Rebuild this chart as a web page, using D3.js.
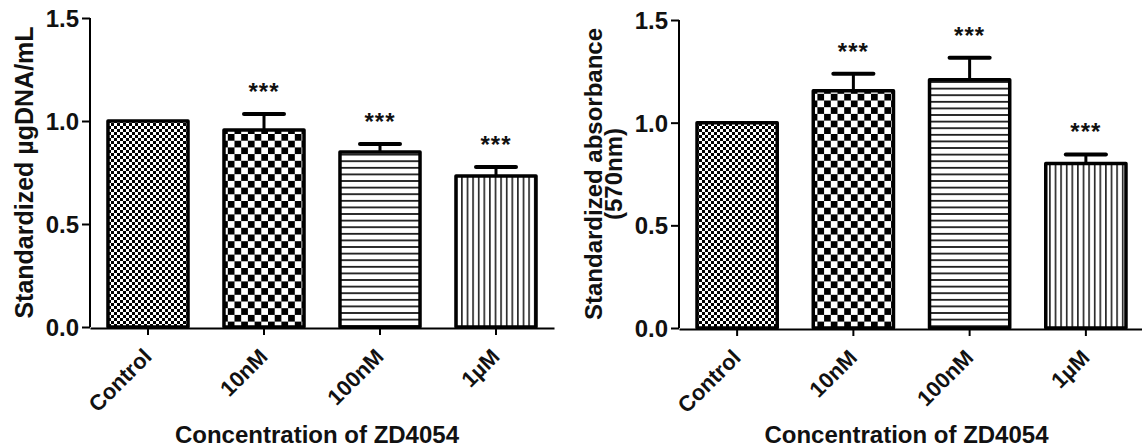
<!DOCTYPE html>
<html>
<head>
<meta charset="utf-8">
<script src="https://cdn.jsdelivr.net/npm/d3@7"></script>
<style>
  body { margin: 0; background: #fff; }
  svg { display: block; font-family: "Liberation Sans", Arial, sans-serif; font-weight: bold; }
</style>
</head>
<body>
<svg width="1142" height="447"></svg>
<script>
const categories = ["Control", "10nM", "100nM", "1µM"];
const patterns = ["fineCheck", "bigCheck", "hLines", "vLines"];
const yTicks = [0, 0.5, 1.0, 1.5];

// left panel: DNA content
const dnaMeans = [1.0, 0.956, 0.85, 0.733];
const dnaErrors = [0, 0.078, 0.038, 0.044];
const dnaStars = ["", "***", "***", "***"];

// right panel: absorbance
const absMeans = [1.0, 1.155, 1.209, 0.801];
const absErrors = [0, 0.083, 0.107, 0.044];
const absStars = ["", "***", "***", "***"];

const svg = d3.select("svg");

const drawPatterns = () => {
  const defs = svg.append("defs");

  let p = defs.append("pattern").attr("id", "fineCheck")
    .attr("patternUnits", "userSpaceOnUse").attr("width", 6).attr("height", 6);
  p.append("rect").attr("width", 6).attr("height", 6).attr("fill", "#fff");
  p.append("rect").attr("width", 3).attr("height", 3).attr("fill", "#000");
  p.append("rect").attr("x", 3).attr("y", 3).attr("width", 3).attr("height", 3).attr("fill", "#000");

  p = defs.append("pattern").attr("id", "bigCheck")
    .attr("patternUnits", "userSpaceOnUse").attr("width", 13.4).attr("height", 13.4);
  p.append("rect").attr("width", 13.4).attr("height", 13.4).attr("fill", "#fff");
  p.append("rect").attr("width", 6.7).attr("height", 6.7).attr("fill", "#000");
  p.append("rect").attr("x", 6.7).attr("y", 6.7).attr("width", 6.7).attr("height", 6.7).attr("fill", "#000");

  p = defs.append("pattern").attr("id", "hLines")
    .attr("patternUnits", "userSpaceOnUse").attr("width", 10).attr("height", 6.6);
  p.append("rect").attr("width", 10).attr("height", 6.6).attr("fill", "#fff");
  p.append("rect").attr("y", 2).attr("width", 10).attr("height", 1.6).attr("fill", "#000");

  p = defs.append("pattern").attr("id", "vLines")
    .attr("patternUnits", "userSpaceOnUse").attr("width", 5.6).attr("height", 10);
  p.append("rect").attr("width", 5.6).attr("height", 10).attr("fill", "#fff");
  p.append("rect").attr("x", 2).attr("width", 1.4).attr("height", 10).attr("fill", "#000");
};

const drawPanel = (opts) => {
  const { means, errors, stars, xRange, yRange, titleLines, titleX, titleSize } = opts;

  const xScale = d3.scaleBand()
    .domain(categories)
    .range(xRange)
    .paddingInner(0.31)
    .paddingOuter(0.155);

  const yScale = d3.scaleLinear().domain([0, 1.5]).range(yRange);

  const g = svg.append("g");

  // bars
  g.selectAll("rect.bar")
    .data(categories)
    .enter()
    .append("rect")
    .attr("class", "bar")
    .attr("x", (d) => xScale(d))
    .attr("width", xScale.bandwidth())
    .attr("y", (d, i) => yScale(means[i]))
    .attr("height", (d, i) => yScale(0) - yScale(means[i]))
    .attr("fill", (d, i) => `url(#${patterns[i]})`)
    .attr("stroke", "#000")
    .attr("stroke-width", 3.5)
    .attr("stroke-linejoin", "round");

  // error bars
  const capHalf = xScale.bandwidth() / 4;
  categories.forEach((c, i) => {
    if (!errors[i]) return;
    const cx = xScale(c) + xScale.bandwidth() / 2;
    g.append("line")
      .attr("x1", cx).attr("x2", cx)
      .attr("y1", yScale(means[i])).attr("y2", yScale(means[i] + errors[i]))
      .attr("stroke", "#000").attr("stroke-width", 3);
    g.append("line")
      .attr("x1", cx - capHalf).attr("x2", cx + capHalf)
      .attr("y1", yScale(means[i] + errors[i])).attr("y2", yScale(means[i] + errors[i]))
      .attr("stroke", "#000").attr("stroke-width", 4).attr("stroke-linecap", "round");
  });

  // significance marks
  g.selectAll("text.star")
    .data(categories)
    .enter()
    .append("text")
    .attr("class", "star")
    .attr("x", (d) => xScale(d) + xScale.bandwidth() / 2)
    .attr("y", (d, i) => yScale(means[i] + errors[i]) - 14)
    .attr("text-anchor", "middle")
    .attr("font-size", 24)
    .attr("letter-spacing", 1)
    .attr("fill", "#111")
    .text((d, i) => stars[i]);

  // axes
  const yAxis = d3.axisLeft(yScale).tickValues(yTicks).tickFormat(d3.format(".1f"))
    .tickSize(8).tickPadding(3);
  const yG = g.append("g")
    .attr("transform", `translate(${xRange[0]}, 0)`)
    .call(yAxis)
    .attr("font-size", null)
    .attr("font-family", null);
  yG.select(".domain").attr("d", `M0,${yRange[1]}V${yRange[0]}`);
  yG.selectAll("path, line").attr("stroke", "#000").attr("stroke-width", 2);
  yG.selectAll("text").style("font-size", "24px").attr("fill", "#111")
    .attr("dy", "0.36em");

  const xAxis = d3.axisBottom(xScale).tickSize(7).tickSizeOuter(0);
  const xG = g.append("g")
    .attr("transform", `translate(0, ${yRange[0] + 1})`)
    .call(xAxis)
    .attr("font-size", null)
    .attr("font-family", null);
  xG.selectAll("path, line").attr("stroke", "#000").attr("stroke-width", 2);
  xG.selectAll("text")
    .style("font-size", "22px").attr("fill", "#111")
    .attr("text-anchor", "end")
    .attr("x", 0).attr("y", 0).attr("dy", 0)
    .attr("transform", "translate(5, 30) rotate(-45)");

  // axis titles
  g.append("text")
    .attr("x", (xRange[0] + xRange[1]) / 2 - 5)
    .attr("y", 443)
    .attr("text-anchor", "middle")
    .attr("font-size", 24)
    .attr("fill", "#111")
    .text("Concentration of ZD4054");

  titleLines.forEach((t, k) => {
    g.append("text")
      .attr("transform", `translate(${titleX[k]}, ${(yRange[0] + yRange[1]) / 2}) rotate(-90)`)
      .attr("text-anchor", "middle")
      .attr("font-size", titleSize)
      .attr("fill", "#111")
      .text(t);
  });
};

drawPatterns();

drawPanel({
  means: dnaMeans,
  errors: dnaErrors,
  stars: dnaStars,
  xRange: [90, 554],
  yRange: [327, 18],
  titleLines: ["Standardized µgDNA/mL"],
  titleX: [33],
  titleSize: 25
});

drawPanel({
  means: absMeans,
  errors: absErrors,
  stars: absStars,
  xRange: [679, 1144],
  yRange: [328, 20],
  titleLines: ["Standardized absorbance", "(570nm)"],
  titleX: [602, 622],
  titleSize: 24
});
</script>
</body>
</html>
